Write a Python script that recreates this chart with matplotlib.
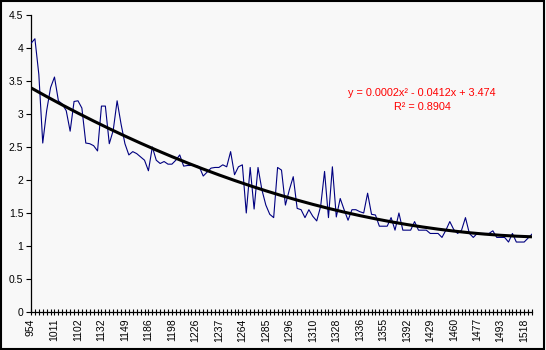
import numpy as np
import matplotlib
matplotlib.use("Agg")
import matplotlib.pyplot as plt
from matplotlib.patches import Rectangle

plt.rcParams['font.family'] = ['Liberation Sans', 'DejaVu Sans']

# Tick labels shown on the category axis (every 6th category)
tick_labels = ["954", "1011", "1102", "1132", "1149", "1186", "1198", "1226",
               "1237", "1264", "1285", "1296", "1310", "1328", "1336", "1355",
               "1392", "1429", "1460", "1477", "1493", "1518"]
label_step = 6

# Series values (one per category)
values = [
    4.07, 4.14, 3.60, 2.56, 3.05, 3.40, 3.56, 3.20, 3.15, 3.05,
    2.74, 3.19, 3.20, 3.09, 2.56, 2.55, 2.52, 2.44, 3.12, 3.12,
    2.55, 2.75, 3.20, 2.85, 2.55, 2.38, 2.43, 2.40, 2.35, 2.30,
    2.14, 2.50, 2.30, 2.25, 2.28, 2.24, 2.24, 2.30, 2.38, 2.21,
    2.22, 2.22, 2.22, 2.20, 2.06, 2.12, 2.18, 2.19, 2.19, 2.23,
    2.20, 2.43, 2.08, 2.20, 2.23, 1.50, 2.19, 1.56, 2.19, 1.85,
    1.62, 1.48, 1.43, 2.19, 2.15, 1.62, 1.85, 2.05, 1.57, 1.55,
    1.43, 1.55, 1.45, 1.38, 1.60, 2.13, 1.43, 2.20, 1.44, 1.72,
    1.55, 1.39, 1.55, 1.55, 1.52, 1.50, 1.80, 1.48, 1.47, 1.30,
    1.30, 1.30, 1.43, 1.24, 1.50, 1.24, 1.24, 1.24, 1.37, 1.24,
    1.24, 1.24, 1.19, 1.19, 1.19, 1.13, 1.24, 1.37, 1.25, 1.19,
    1.24, 1.43, 1.19, 1.13, 1.19, 1.19, 1.19, 1.19, 1.23, 1.13,
    1.13, 1.13, 1.06, 1.19, 1.06, 1.06, 1.06, 1.12, 1.18,
]

y_ticks = [0, 0.5, 1, 1.5, 2, 2.5, 3, 3.5, 4, 4.5]
y_tick_labels = ["0", "0.5", "1", "1.5", "2", "2.5", "3", "3.5", "4", "4.5"]

bg = "#F8F8F8"
fig = plt.figure(figsize=(5.46, 3.5), dpi=100, facecolor=bg)
ax = fig.add_axes([31/546, 1-312/350, (532-31)/546, (312-15)/350])
ax.set_facecolor(bg)

n = len(values)
idx = np.arange(n)

# polynomial (order 2) trendline, Excel style with x = 1..n
xf = idx + 1
coef = np.polyfit(xf, values, 2)
trend = np.polyval(coef, xf)

ax.plot(idx, values, color="#000080", lw=0.8, zorder=3)
ax.plot(idx, trend, color="black", lw=2.2, zorder=4, solid_capstyle="butt")

ax.set_xlim(0, n - 1)
ax.set_ylim(0, 4.5)

major = idx[::label_step][:len(tick_labels)]
ax.set_xticks(major)
ax.set_xticklabels(tick_labels, rotation=90, fontsize=7.5, va="top", ha="center")
ax.set_xticks(idx, minor=True)
ax.tick_params(axis="x", which="both", direction="inout", length=5, width=0.8, pad=2)

ax.set_yticks(y_ticks)
ax.set_yticklabels(y_tick_labels, fontsize=7.5)
ax.tick_params(axis="y", direction="out", length=3.5, width=0.8, pad=2)

for s in ["top", "right"]:
    ax.spines[s].set_visible(False)
for s in ["left", "bottom"]:
    ax.spines[s].set_linewidth(0.9)

fig.text(422/546, 1-93/350, "y = 0.0002x\u00b2 - 0.0412x + 3.474",
         color="red", fontsize=7.8, ha="center", va="center")
fig.text(422/546, 1-107/350, "R\u00b2 = 0.8904",
         color="red", fontsize=7.8, ha="center", va="center")

fig.patches.append(Rectangle((0.001, 0.002), 0.996, 0.995, transform=fig.transFigure,
                             fill=False, edgecolor="black", lw=1.5))

fig.savefig("out.png", dpi=100, facecolor=bg)
